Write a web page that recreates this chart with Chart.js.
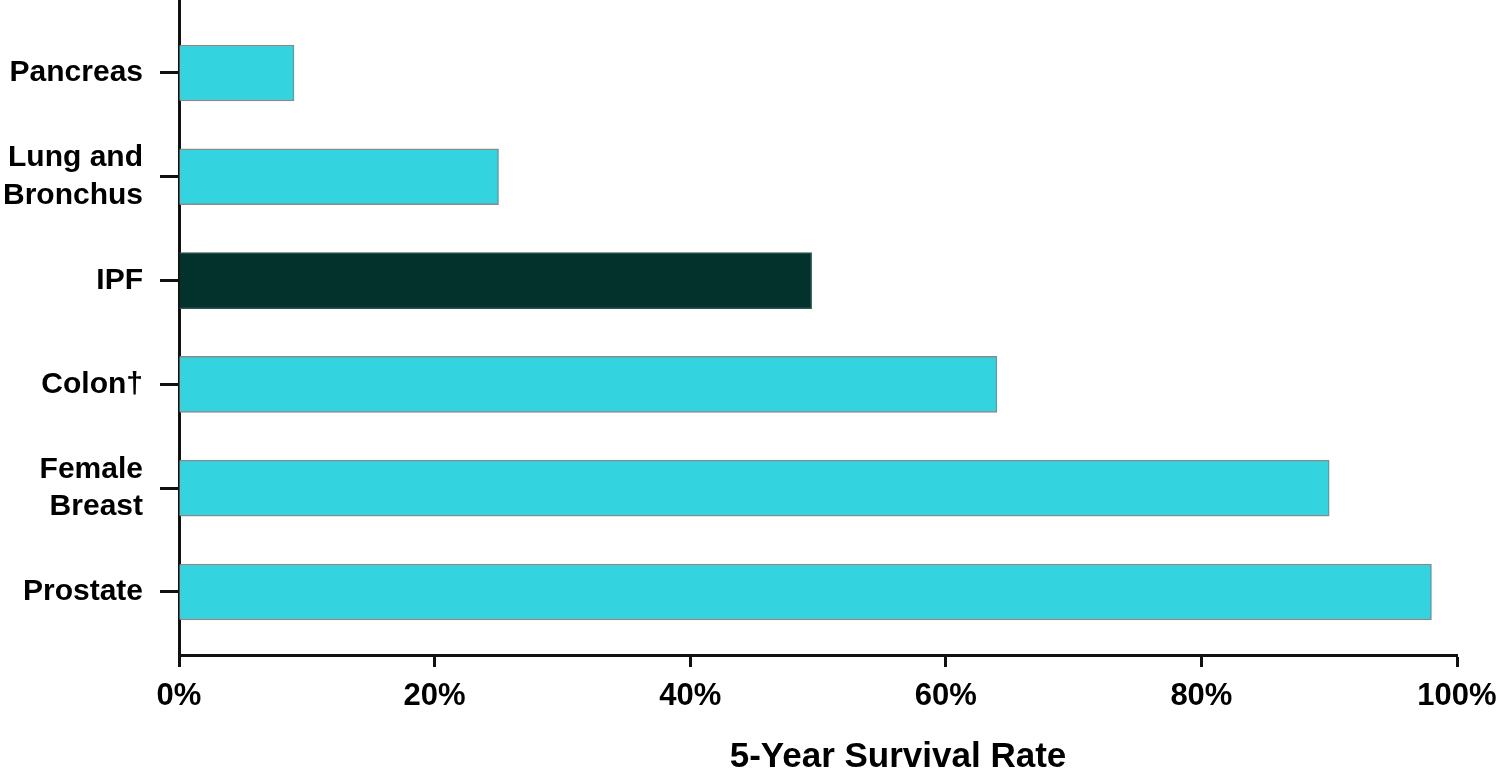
<!DOCTYPE html>
<html><head><meta charset="utf-8">
<script src="https://cdn.jsdelivr.net/npm/chart.js@4/dist/chart.umd.min.js"></script>
<style>html,body{margin:0;padding:0;background:#fff;}#wrap{width:1496px;height:779px;position:relative;}</style>
</head><body><div id="wrap"><canvas id="c"></canvas></div>
<script>
const categories = [["Pancreas"], ["Lung and", "Bronchus"], ["IPF"], ["Colon\u2020"], ["Female", "Breast"], ["Prostate"]];
const survivalRates = [9, 25, 49.5, 64, 90, 98];
const barColors = ["#33d3e0", "#33d3e0", "#03312c", "#33d3e0", "#33d3e0", "#33d3e0"];
const barBorders = ["#8a8a8a", "#8a8a8a", "#2f5550", "#8a8a8a", "#8a8a8a", "#8a8a8a"];
const xTickValues = [0, 20, 40, 60, 80, 100];
const xTitle = "5-Year Survival Rate";

const FONT = "'Liberation Sans', Arial, sans-serif";
Chart.defaults.font.family = FONT;
Chart.defaults.color = "#000";

const axisTitlePlugin = {
  id: "axisTitle",
  afterDraw(chart) {
    const ctx = chart.ctx;
    const area = chart.chartArea;
    ctx.save();
    ctx.font = "bold 35px " + FONT;
    ctx.fillStyle = "#000";
    ctx.textAlign = "center";
    ctx.textBaseline = "alphabetic";
    ctx.fillText(xTitle, (area.left + area.right) / 2 + 80, 767);
    ctx.restore();
  }
};

new Chart(document.getElementById("c"), {
  type: "bar",
  data: {
    datasets: [{
      data: categories.map((c, i) => ({ x: survivalRates[i], y: i })),
      backgroundColor: barColors,
      borderColor: barBorders,
      borderWidth: 1.5,
      barThickness: 56
    }]
  },
  plugins: [axisTitlePlugin],
  options: {
    indexAxis: "y",
    responsive: true,
    maintainAspectRatio: false,
    animation: false,
    devicePixelRatio: 1,
    layout: { padding: { top: 0, right: 39, bottom: 0, left: 0 } },
    plugins: { legend: { display: false }, tooltip: { enabled: false } },
    scales: {
      y: {
        type: "linear",
        reverse: true,
        offset: false,
        min: -0.703,
        max: 5.607,
        afterBuildTicks: s => { s.ticks = categories.map((c, i) => ({ value: i })); },
        afterFit: s => { s.width = 179; s.paddingTop = 0; s.paddingBottom = 0; },
        ticks: {
          autoSkip: false,
          padding: 17,
          color: "#000",
          font: { family: FONT, size: 30, weight: "bold", lineHeight: 1.24 },
          callback: v => categories[v]
        },
        grid: { offset: false, drawOnChartArea: false, tickLength: 19, tickWidth: 3, tickColor: "#111" },
        border: { color: "#111", width: 3 }
      },
      x: {
        type: "linear",
        min: 0,
        max: 100,
        afterBuildTicks: s => { s.ticks = xTickValues.map(v => ({ value: v })); },
        afterFit: s => { s.height = 124; s.paddingRight = 0; s.paddingLeft = 0; },
        ticks: {
          maxRotation: 0,
          padding: 11,
          color: "#000",
          font: { family: FONT, size: 31, weight: "bold" },
          callback: v => v + "%"
        },
        grid: { drawOnChartArea: false, tickLength: 12, tickWidth: 3, tickColor: "#111" },
        border: { color: "#111", width: 3 },
        title: { display: false }
      }
    }
  }
});
</script>
</body></html>
